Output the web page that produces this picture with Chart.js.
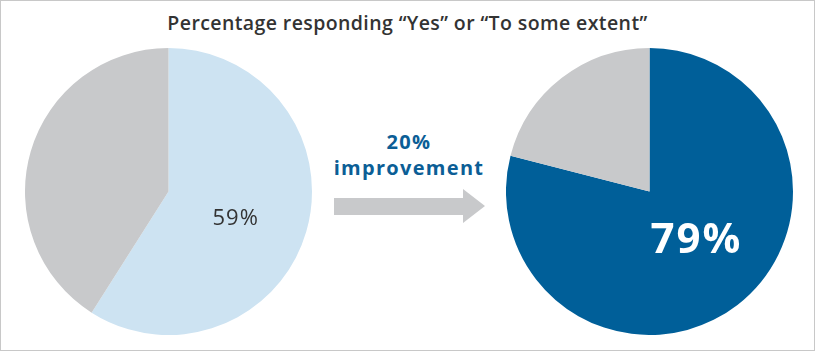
<!DOCTYPE html>
<html>
<head>
<meta charset="utf-8">
<script src="https://cdn.jsdelivr.net/npm/chart.js@4"></script>
<style>
  body { margin: 0; background: #fff; font-family: "Open Sans", sans-serif; }
  #wrap { position: relative; width: 815px; height: 351px; box-sizing: border-box; border: 1px solid #c8c8c8; overflow: hidden; }
  #title { position: absolute; left: 0; top: 8px; width: 100%; text-align: center; font-size: 19.5px; font-weight: 600; color: #333; letter-spacing: 0.4px; }
  .pie { position: absolute; top: 47px; width: 287px; height: 287px; }
  #mid { position: absolute; left: 320px; top: 128px; width: 176px; text-align: center; color: #0b5e96; font-weight: 700; font-size: 20px; line-height: 26px; letter-spacing: 1.3px; }
  #arrow { position: absolute; left: 333px; top: 188px; }
</style>
</head>
<body>
<div id="wrap">
  <div id="title">Percentage responding “Yes” or “To some extent”</div>
  <canvas id="before" class="pie" style="left:24px"></canvas>
  <div id="mid">20%<br>improvement</div>
  <svg id="arrow" width="152" height="36"><polygon points="0,9 129,9 129,0 151,17 129,34 129,26 0,26" fill="#c8c9cb"/></svg>
  <canvas id="after" class="pie" style="left:505px"></canvas>
</div>
<script>
const sliceLabels = ['Yes / To some extent', 'No'];
const beforeValues = [59, 41];
const afterValues = [79, 21];
const improvement = '20%';

const gray = '#c8c9cb';

// writes the first slice's percentage inside it
const sliceText = {
  id: 'sliceText',
  afterDraw(chart, args, opts) {
    const arc = chart.getDatasetMeta(0).data[0];
    const p = arc.getProps(['x', 'y', 'startAngle', 'endAngle', 'outerRadius']);
    const a = (p.startAngle + p.endAngle) / 2;
    const r = p.outerRadius * opts.dist;
    const ctx = chart.ctx;
    ctx.save();
    ctx.font = opts.font;
    ctx.fillStyle = opts.color;
    ctx.textAlign = 'center';
    ctx.textBaseline = 'middle';
    ctx.letterSpacing = opts.spacing;
    ctx.fillText(chart.data.datasets[0].data[0] + '%', p.x + Math.cos(a) * r + opts.dx, p.y + Math.sin(a) * r + opts.dy);
    ctx.restore();
  }
};

function makePie(id, values, color, label) {
  new Chart(document.getElementById(id), {
    type: 'pie',
    data: {
      labels: sliceLabels,
      datasets: [{ data: values, backgroundColor: [color, gray], borderWidth: 0 }]
    },
    options: {
      responsive: false,
      animation: false,
      layout: { padding: 0 },
      plugins: { legend: { display: false }, tooltip: { enabled: false }, sliceText: label }
    },
    plugins: [sliceText]
  });
}

makePie('before', beforeValues, '#cde3f2', { font: '22px "Open Sans"', color: '#333', dist: 0.48, dx: 1, dy: 8, spacing: '1px' });
makePie('after', afterValues, '#005f99', { font: 'bold 42px "Open Sans"', color: '#fff', dist: 0.5, dx: 3, dy: -7, spacing: '2px' });
</script>
</body>
</html>
